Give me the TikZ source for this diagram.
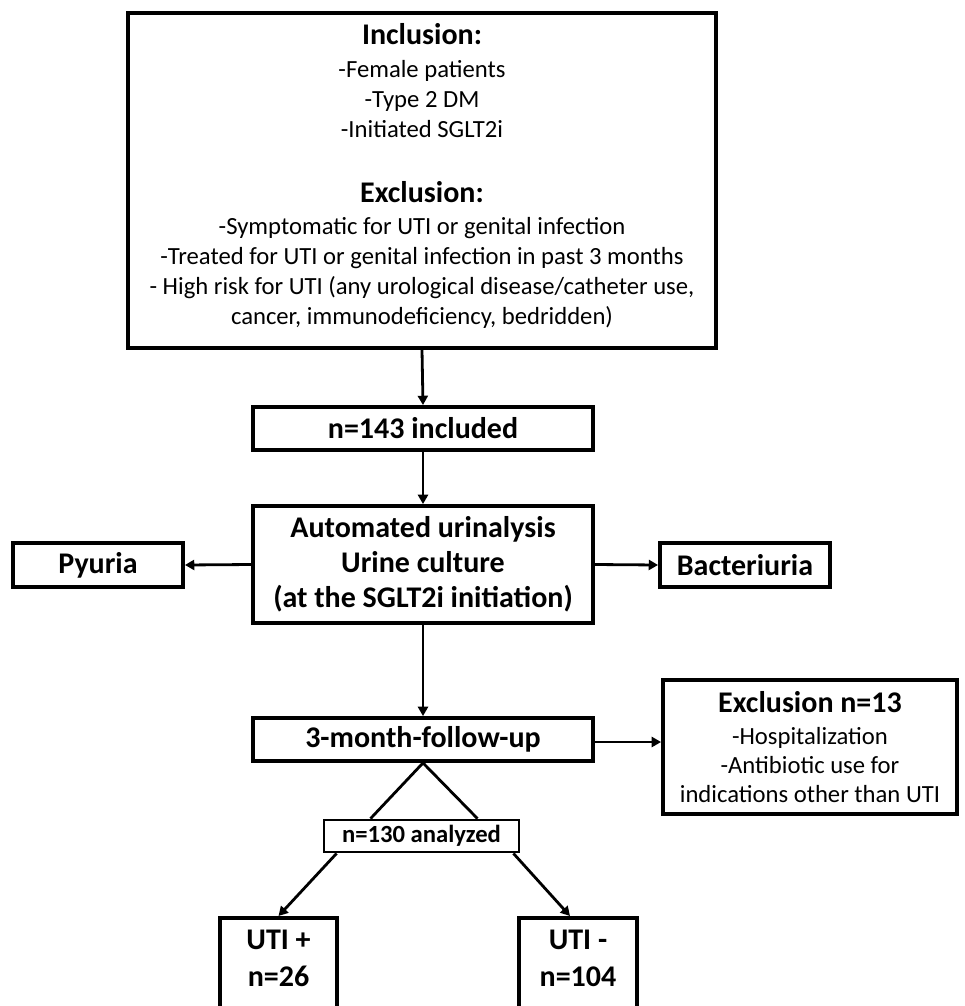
\documentclass[tikz,border=0pt]{standalone}
\usepackage{fontspec}
\setmainfont{Carlito}
\usetikzlibrary{arrows.meta,calc}
\tikzset{
  box/.style={draw=black, line width=2.9pt, fill=white, inner sep=0pt, align=center, text=black},
  thinbox/.style={box, line width=2.1pt},
  conn/.style={draw=black, line width=2.1pt},
  arr/.style={conn, -{Triangle[length=7pt,width=7.5pt]}},
  bigb/.style={font=\bfseries\fontsize{22.5}{26.25}\selectfont},
  body/.style={font=\fontsize{18.5}{22.5}\selectfont},
}
\newcommand{\hd}[1]{{\bfseries\fontsize{22.5}{22.5}\selectfont #1}}
\begin{document}
\begin{tikzpicture}[x=0.75pt,y=-0.75pt]
\useasboundingbox (0,0) rectangle (964,1006);
\clip (0,0) rectangle (964,1006);
\fill[white] (0,0) rectangle (964,1006);

\node[box, body, minimum width=441pt, minimum height=251.25pt] (top) at (422,180.5)
 {\hd{Inclusion:}\\[2.25pt]
  -Female patients\\
  -Type 2 DM\\
  -Initiated SGLT2i\\[26.25pt]
  \hd{Exclusion:}\\[1.5pt]
  -Symptomatic for UTI or genital infection\\
  -Treated for UTI or genital infection in past 3 months\\
  - High risk for UTI (any urological disease/catheter use,\\
  cancer, immunodeficiency, bedridden)\\[-12pt]\mbox{}};

\node[box, bigb, minimum width=255pt, minimum height=32.25pt] (inc) at (423,428.5) {n=143 included};

\node[box, bigb, minimum width=255pt, minimum height=87.75pt] (auto) at (423,564.5)
 {Automated urinalysis\\ Urine culture\\ (at the SGLT2i initiation)};

\node[box, bigb, minimum width=127.5pt, minimum height=33pt] (pyu) at (98,565) {Pyuria};
\node[box, bigb, minimum width=127.5pt, minimum height=33pt] (bac) at (745,565) {Bacteriuria};

\node[box, bigb, minimum width=255pt, minimum height=32.25pt] (fup) at (423,739.5) {3-month-follow-up};

\node[box, body, font=\fontsize{18.5}{21.75}\selectfont, minimum width=220.5pt, minimum height=100.5pt] (exc) at (810,747)
 {\hd{Exclusion n=13}\\[2.25pt]
  -Hospitalization\\
  -Antibiotic use for\\
  indications other than UTI};

\node[thinbox, font=\bfseries\fontsize{18.5}{22}\selectfont, minimum width=146.25pt, minimum height=24pt] (ana) at (421.5,836) {n=130 analyzed};

\node[box, font=\bfseries\fontsize{22.5}{27.75}\selectfont, minimum width=87.75pt, inner ysep=9pt, anchor=north] (utp) at (278.5,916)
 {UTI +\\ n=26\\[60pt]\mbox{}};
\node[box, font=\bfseries\fontsize{22.5}{27.75}\selectfont, minimum width=88.5pt, inner ysep=9pt, anchor=north] (utm) at (578,916)
 {UTI -\\ n=104\\[60pt]\mbox{}};

% connectors
\draw[arr] (top.south) -- (inc.north);
\draw[arr] (inc.south) -- (auto.north);
\draw[arr] (auto.west) -- (pyu.east);
\draw[arr] (auto.east) -- (bac.west);
\draw[arr] (auto.south) -- (fup.north);
\coordinate (fe) at ($(fup.east)+(0,2.5)$);
\draw[arr] (fe) -- (fe -| exc.west);

\coordinate (tl) at ($(ana.north)+(-51,0)$);
\coordinate (tr) at ($(ana.north)+(56,0)$);
\draw[conn] (tl) -- (fup.south) -- (tr);

\coordinate (la) at ($(ana.south west)+(14,0)$);
\coordinate (ra) at ($(ana.south east)+(-7,0)$);
\coordinate (rb) at ($(utm.north)+(-8,0)$);
\draw[arr] (la) -- (utp.north);
\draw[arr] (ra) -- (rb);
\end{tikzpicture}
\end{document}
